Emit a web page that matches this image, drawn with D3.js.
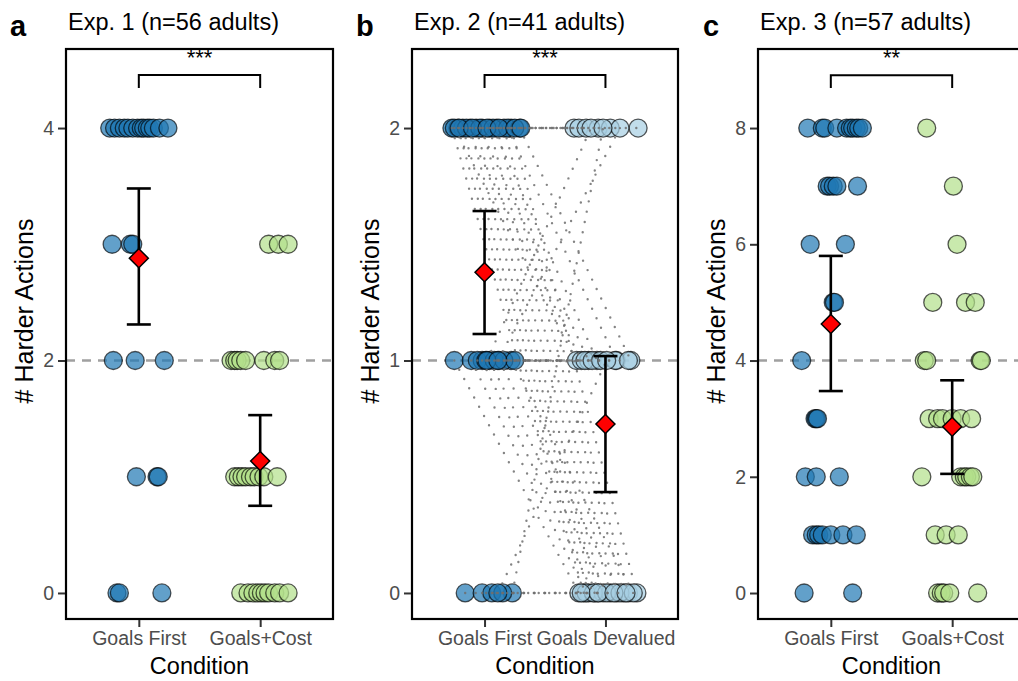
<!DOCTYPE html>
<html>
<head>
<meta charset="utf-8">
<script src="https://cdn.jsdelivr.net/npm/d3@7"></script>
<style>
  body { margin: 0; background: #fff; }
  svg { display: block; font-family: "Liberation Sans", Arial, sans-serif; }
</style>
</head>
<body>
<svg id="chart" width="1018" height="681"></svg>
<script>
// ---------- Exp. 1 (between subjects) ----------
const exp1Categories = ["Goals First", "Goals+Cost"];
const exp1GoalsFirstValues = [4,4,4,4,4,4,4,4,4,4,4,4,4,4, 3,3,3, 2,2,2, 1,1,1, 0,0,0];
const exp1GoalsFirstJitter = [-0.24,-0.20,-0.16,-0.12,-0.09,-0.05,-0.01,0.02,0.04,0.07,0.09,0.12,0.17,0.24,
  -0.22,-0.07,-0.05, -0.21,-0.03,0.21, -0.02,0.15,0.16, -0.18,-0.16,0.19];
const exp1GoalsCostValues = [3,3,3, 2,2,2,2,2,2,2,2, 1,1,1,1,1,1,1,1,1, 0,0,0,0,0,0,0,0,0,0];
const exp1GoalsCostJitter = [0.07,0.15,0.23,
  -0.24,-0.21,-0.19,-0.16,-0.12,0.03,0.12,0.16,
  -0.21,-0.18,-0.15,-0.12,-0.08,-0.05,-0.01,0.03,0.14,
  -0.16,-0.10,-0.06,-0.02,0.01,0.04,0.07,0.12,0.16,0.23];
const exp1Means = [2.88, 1.135];
const exp1CiLow = [2.31, 0.75];
const exp1CiHigh = [3.48, 1.53];

// ---------- Exp. 2 (within subjects, paired) ----------
const exp2Categories = ["Goals First", "Goals Devalued"];
const exp2GoalsFirstValues = [2,2,2,2,2,2,2,2,2,2, 2,2,2,2,2,2, 2,2,2,2,2,2, 1,1,1,1,1,1, 1,1,1,1,1, 1,1, 0, 0,0,0,0, 0];
const exp2DevaluedValues   = [0,0,0,0,0,0,0,0,0,0, 1,1,1,1,1,1, 2,2,2,2,2,2, 0,0,0,0,0,0, 1,1,1,1,1, 2,2, 2, 0,0,0,0, 1];
const exp2GoalsFirstJitter = [-0.27,-0.22,-0.18,-0.12,-0.07,-0.02,0.04,0.10,0.16,0.22,
  -0.25,-0.15,-0.04,0.07,0.19,0.29,
  -0.21,-0.10,0.02,0.12,0.25,0.30,
  -0.25,-0.11,-0.02,0.04,0.12,0.22,
  -0.06,0.01,0.08,0.16,0.25,
  0.02,0.11,
  0.23,
  -0.16,-0.02,0.06,0.15,
  0.11];
const exp2DevaluedJitter = [-0.18,-0.14,-0.09,-0.06,-0.02,0.04,0.09,0.15,0.19,0.26,
  -0.24,-0.20,-0.14,-0.07,0.09,0.21,
  -0.26,-0.22,-0.16,-0.06,0.04,0.27,
  -0.22,-0.16,-0.10,0.01,0.12,0.23,
  -0.17,-0.11,-0.04,0.08,0.19,
  -0.12,0.12,
  -0.02,
  -0.20,-0.06,0.07,0.17,
  0.01];
const exp2Means = [1.38, 0.727];
const exp2CiLow = [1.114, 0.434];
const exp2CiHigh = [1.643, 1.019];

// ---------- Exp. 3 (between subjects) ----------
const exp3Categories = ["Goals First", "Goals+Cost"];
const exp3GoalsFirstValues = [8,8,8,8,8,8,8,8,8,8, 7,7,7,7,7, 6,6, 5,5, 4, 3,3,3, 2,2,2, 1,1,1,1,1,1,1, 0,0];
const exp3GoalsFirstJitter = [-0.19,-0.07,-0.05,0.05,0.13,0.16,0.18,0.21,0.23,0.26,
  -0.03,-0.01,0.02,0.05,0.22,
  -0.17,0.12, 0.02,0.03, -0.24, -0.13,-0.12,-0.11, -0.21,-0.12,0.07,
  -0.15,-0.12,-0.10,-0.07,0.0,0.10,0.21, -0.22,0.18];
const exp3GoalsCostValues = [8, 7, 6, 5,5,5, 4,4,4,4, 3,3,3,3,3,3, 2,2,2,2,2,2, 1,1,1, 0,0,0,0,0];
const exp3GoalsCostJitter = [-0.21, 0.01, 0.04, -0.16,0.11,0.19, -0.23,-0.21,0.23,0.24,
  -0.19,-0.12,-0.08,0.0,0.07,0.16,
  -0.25,0.07,0.10,0.12,0.15,0.17,
  -0.14,-0.05,0.05,
  -0.12,-0.09,-0.07,-0.02,0.21];
const exp3Means = [4.63, 2.86];
const exp3CiLow = [3.475, 2.05];
const exp3CiHigh = [5.80, 3.66];

// ---------- shared styling ----------
const colBlue = "#1f78b4", colLightBlue = "#a6cee3", colGreen = "#b2df8a";

const panels = [
  { letter: "a", title: "Exp. 1 (n=56 adults)", x0: 66, x1: 333, y0: 49, y1: 619,
    yDomain: [-0.224, 4.68], ticks: [0, 2, 4], ref: 2, cats: exp1Categories,
    groups: [
      { cat: 1, values: exp1GoalsFirstValues, jitter: exp1GoalsFirstJitter, color: colBlue },
      { cat: 2, values: exp1GoalsCostValues, jitter: exp1GoalsCostJitter, color: colGreen }],
    means: exp1Means, lo: exp1CiLow, hi: exp1CiHigh, stars: "***", bracket: [4.456, 4.344],
    yTitleX: 25, letterX: 10 },
  { letter: "b", title: "Exp. 2 (n=41 adults)", x0: 412, x1: 678, y0: 49, y1: 619,
    yDomain: [-0.112, 2.34], ticks: [0, 1, 2], ref: 1, cats: exp2Categories,
    groups: [
      { cat: 1, values: exp2GoalsFirstValues, jitter: exp2GoalsFirstJitter, color: colBlue },
      { cat: 2, values: exp2DevaluedValues, jitter: exp2DevaluedJitter, color: colLightBlue }],
    paired: true,
    means: exp2Means, lo: exp2CiLow, hi: exp2CiHigh, stars: "***", bracket: [2.228, 2.172],
    yTitleX: 371, letterX: 356 },
  { letter: "c", title: "Exp. 3 (n=57 adults)", x0: 758, x1: 1025, y0: 49, y1: 619,
    yDomain: [-0.447, 9.36], ticks: [0, 2, 4, 6, 8], ref: 4, cats: exp3Categories,
    groups: [
      { cat: 1, values: exp3GoalsFirstValues, jitter: exp3GoalsFirstJitter, color: colBlue },
      { cat: 2, values: exp3GoalsCostValues, jitter: exp3GoalsCostJitter, color: colGreen }],
    means: exp3Means, lo: exp3CiLow, hi: exp3CiHigh, stars: "**", bracket: [8.91, 8.69],
    yTitleX: 717, letterX: 703 }
];

const svg = d3.select("#chart");

panels.forEach(p => {
  const x = d3.scaleLinear().domain([0.4, 2.6]).range([p.x0, p.x1]);
  const y = d3.scaleLinear().domain(p.yDomain).range([p.y1, p.y0]);
  const g = svg.append("g");

  // reference line
  g.append("line")
    .attr("x1", p.x0).attr("x2", p.x1)
    .attr("y1", y(p.ref)).attr("y2", y(p.ref))
    .attr("stroke", "#a0a0a0").attr("stroke-width", 2.5)
    .attr("stroke-dasharray", "9,7");

  // individual responses
  p.groups.forEach(gr => {
    g.append("g").selectAll("circle")
      .data(gr.values.map((v, i) => ({ v, j: gr.jitter[i] })))
      .join("circle")
      .attr("cx", d => x(gr.cat + d.j))
      .attr("cy", d => y(d.v))
      .attr("r", 9)
      .attr("fill", gr.color).attr("fill-opacity", 0.7)
      .attr("stroke", "#000").attr("stroke-opacity", 0.65).attr("stroke-width", 1.3);
  });

  // paired lines per participant
  if (p.paired) {
    const a = p.groups[0], b = p.groups[1];
    const line = d3.line().x(d => x(d[0])).y(d => y(d[1]));
    g.append("g").selectAll("path")
      .data(a.values.map((v, i) => [[a.cat + a.jitter[i], v], [b.cat + b.jitter[i], b.values[i]]]))
      .join("path")
      .attr("d", line)
      .attr("fill", "none")
      .attr("stroke", "#6e6e6e").attr("stroke-opacity", 0.85)
      .attr("stroke-width", 2.4).attr("stroke-linecap", "round")
      .attr("stroke-dasharray", "0,10.5");
  }

  // error bars and means
  [1, 2].forEach((c, i) => {
    const eb = g.append("g");
    eb.append("line").attr("x1", x(c)).attr("x2", x(c))
      .attr("y1", y(p.lo[i])).attr("y2", y(p.hi[i]));
    eb.append("line").attr("x1", x(c) - 12).attr("x2", x(c) + 12)
      .attr("y1", y(p.lo[i])).attr("y2", y(p.lo[i]));
    eb.append("line").attr("x1", x(c) - 12).attr("x2", x(c) + 12)
      .attr("y1", y(p.hi[i])).attr("y2", y(p.hi[i]));
    eb.selectAll("line").attr("stroke", "#000").attr("stroke-width", 2.6);
    g.append("path")
      .attr("d", d3.symbol().type(d3.symbolDiamond2).size(230)())
      .attr("transform", `translate(${x(c)},${y(p.means[i])})`)
      .attr("fill", "#ff0000").attr("stroke", "#000").attr("stroke-width", 1.5);
  });

  // significance bracket
  g.append("path")
    .attr("d", `M${x(1)},${y(p.bracket[1])}V${y(p.bracket[0])}H${x(2)}V${y(p.bracket[1])}`)
    .attr("fill", "none").attr("stroke", "#000").attr("stroke-width", 2);
  g.append("text")
    .attr("x", (x(1) + x(2)) / 2).attr("y", y(p.bracket[0]) - 10)
    .attr("text-anchor", "middle").attr("font-size", 22).text(p.stars);

  // panel border
  g.append("rect")
    .attr("x", p.x0).attr("y", p.y0)
    .attr("width", p.x1 - p.x0).attr("height", p.y1 - p.y0)
    .attr("fill", "none").attr("stroke", "#000").attr("stroke-width", 2.2);

  // y axis
  const yAxis = g.append("g").attr("transform", `translate(${p.x0 - 1},0)`)
    .call(d3.axisLeft(y).tickValues(p.ticks).tickFormat(d3.format("d")).tickSize(7).tickPadding(4));
  yAxis.select(".domain").remove();
  yAxis.selectAll(".tick line").attr("stroke", "#333").attr("stroke-width", 2);
  yAxis.selectAll(".tick text").attr("fill", "#4d4d4d").attr("font-size", 19.5)
    .attr("font-family", "Liberation Sans, Arial, sans-serif");

  // x axis
  const xAxis = g.append("g").attr("transform", `translate(0,${p.y1 + 1})`)
    .call(d3.axisBottom(x).tickValues([1, 2]).tickFormat(d => p.cats[d - 1]).tickSize(7).tickPadding(4));
  xAxis.select(".domain").remove();
  xAxis.selectAll(".tick line").attr("stroke", "#333").attr("stroke-width", 2);
  xAxis.selectAll(".tick text").attr("fill", "#4d4d4d").attr("font-size", 19.5)
    .attr("font-family", "Liberation Sans, Arial, sans-serif");

  // axis titles
  g.append("text")
    .attr("x", (p.x0 + p.x1) / 2).attr("y", 674)
    .attr("text-anchor", "middle").attr("font-size", 23.5).text("Condition");
  g.append("text")
    .attr("transform", `translate(${p.yTitleX + 8},${311}) rotate(-90)`)
    .attr("text-anchor", "middle").attr("font-size", 25).text("# Harder Actions");

  // panel title and letter
  g.append("text")
    .attr("x", p.x0 + 2).attr("y", 30)
    .attr("font-size", 23.5).text(p.title);
  g.append("text")
    .attr("x", p.letterX).attr("y", 36)
    .attr("font-size", 29).attr("font-weight", "bold").text(p.letter);
});
</script>
</body>
</html>
